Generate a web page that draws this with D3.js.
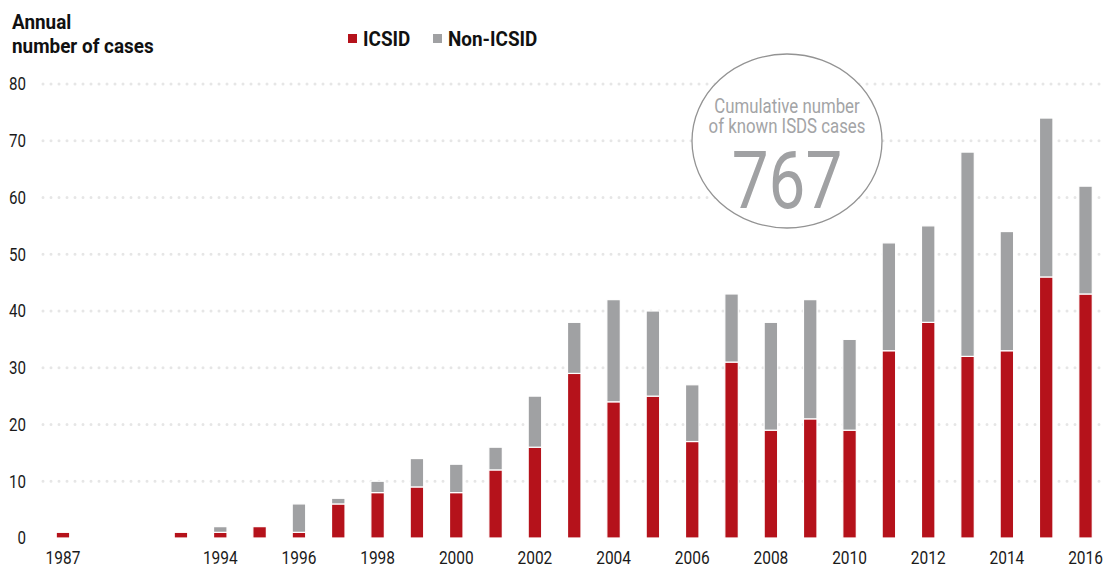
<!DOCTYPE html>
<html>
<head>
<meta charset="utf-8">
<script src="https://cdn.jsdelivr.net/npm/d3@7"></script>
<style>
  body { margin: 0; background: #fff; }
  svg text { font-family: "Roboto", "Liberation Sans", sans-serif; }
</style>
</head>
<body>
<svg id="chart" width="1106" height="568"></svg>
<script>
"use strict";

// slots along the x axis (two empty slots between 1987 and 1993)
var slots = ["1987", "gap-a", "gap-b", "1993", "1994", "1995", "1996", "1997", "1998", "1999",
  "2000", "2001", "2002", "2003", "2004", "2005", "2006", "2007", "2008", "2009",
  "2010", "2011", "2012", "2013", "2014", "2015", "2016"];
var icsid =    [1, 0, 0, 1, 1, 2, 1, 6, 8, 9, 8, 12, 16, 29, 24, 25, 17, 31, 19, 21, 19, 33, 38, 32, 33, 46, 43];
var nonIcsid = [0, 0, 0, 0, 1, 0, 5, 1, 2, 5, 5, 4, 9, 9, 18, 15, 10, 12, 19, 21, 16, 19, 17, 36, 21, 28, 19];
var xTickLabels = ["1987", "1994", "1996", "1998", "2000", "2002", "2004", "2006", "2008", "2010", "2012", "2014", "2016"];
var yTicks = [0, 10, 20, 30, 40, 50, 60, 70, 80];
var seriesNames = ["ICSID", "Non-ICSID"];
var cumulative = 767;

var red = "#b5121b", grey = "#a0a1a3";

var svg = d3.select("#chart");

// the reference uses a condensed face; squeeze Roboto horizontally
function place(sel, x, y, sx) {
  return sel.attr("transform", "translate(" + x + "," + y + ") scale(" + sx + ",1)");
}

var x = d3.scaleBand().domain(slots).range([43.3, 1105.2]).paddingInner(0.657).paddingOuter(0.3285);
var y = d3.scaleLinear().domain([0, 80]).range([538, 84]);

var rows = slots.map(function (s, i) { return { slot: s, icsid: icsid[i], non: nonIcsid[i] }; });

// dotted gridlines
svg.append("g").selectAll("line")
  .data(yTicks.filter(function (d) { return d > 0; }))
  .enter().append("line")
  .attr("x1", 43).attr("x2", 1106)
  .attr("y1", function (d) { return y(d); })
  .attr("y2", function (d) { return y(d); })
  .attr("stroke", "#e6e6e6")
  .attr("stroke-width", 3)
  .attr("stroke-linecap", "round")
  .attr("stroke-dasharray", "0,8");

// y labels
svg.append("g").selectAll("text")
  .data(yTicks)
  .enter().append("text")
  .each(function (d) { place(d3.select(this), 26, y(d), 0.84); })
  .attr("dy", "0.36em")
  .attr("text-anchor", "end")
  .attr("font-size", 18)
  .attr("fill", "#1a1a1a")
  .text(function (d) { return d; });

// bars
var stack = d3.stack().keys(["icsid", "non"])(rows);
var colors = [red, grey];
svg.append("g").selectAll("g")
  .data(stack)
  .enter().append("g")
  .attr("fill", function (d, i) { return colors[i]; })
  .selectAll("rect")
  .data(function (d) { return d.filter(function (p) { return p[1] > p[0]; }); })
  .enter().append("rect")
  .attr("x", function (d) { return x(d.data.slot); })
  .attr("width", x.bandwidth())
  .attr("y", function (d) { return y(d[1]); })
  .attr("height", function (d) { return y(d[0]) - y(d[1]); })
  .attr("stroke", "#fff")
  .attr("stroke-width", 1.2);

// x labels
svg.append("g").selectAll("text")
  .data(xTickLabels)
  .enter().append("text")
  .each(function (d) { place(d3.select(this), x(d) + x.bandwidth() / 2, 564, 0.86); })
  .attr("text-anchor", "middle")
  .attr("font-size", 18)
  .attr("fill", "#1a1a1a")
  .text(function (d) { return d; });

// title
place(svg.append("text"), 12, 29, 0.9).attr("font-size", 21).attr("font-weight", "bold").attr("fill", "#111").text("Annual");
place(svg.append("text"), 12, 53, 0.9).attr("font-size", 21).attr("font-weight", "bold").attr("fill", "#111").text("number of cases");

// legend
var legend = svg.append("g").selectAll("g")
  .data(seriesNames)
  .enter().append("g")
  .attr("transform", function (d, i) { return "translate(" + [348, 433][i] + ",0)"; });
legend.append("rect").attr("x", 0).attr("y", 34).attr("width", 9).attr("height", 9)
  .attr("fill", function (d, i) { return colors[i]; });
legend.append("text")
  .each(function () { place(d3.select(this), 15, 46, 0.9); })
  .attr("font-size", 21).attr("font-weight", "bold").attr("fill", "#111")
  .text(function (d) { return d; });

// cumulative bubble
var bubble = svg.append("g").attr("transform", "translate(787,141)");
bubble.append("ellipse").attr("rx", 95).attr("ry", 87).attr("fill", "#fff").attr("stroke", "#939393").attr("stroke-width", 1.3);
place(bubble.append("text"), 0, -28, 0.8).attr("text-anchor", "middle").attr("font-size", 21).attr("fill", "#a3a4a6").text("Cumulative number");
place(bubble.append("text"), 0, -8, 0.8).attr("text-anchor", "middle").attr("font-size", 21).attr("fill", "#a3a4a6").text("of known ISDS cases");
place(bubble.append("text"), 0, 67, 0.82).attr("text-anchor", "middle").attr("font-size", 80).attr("fill", grey).text(cumulative);
</script>
</body>
</html>
